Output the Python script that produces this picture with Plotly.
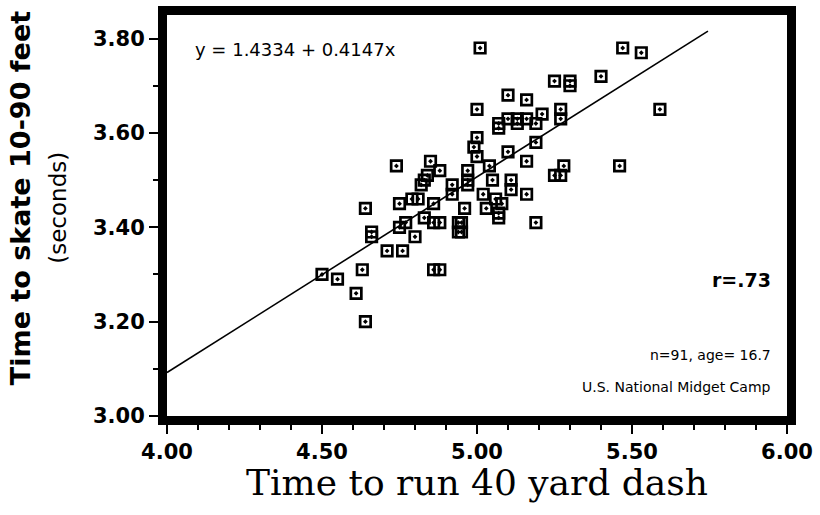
import plotly.graph_objects as go

# Time to run 40 yard dash (s)
dash_times = [
    5.01, 5.47, 5.53, 5.25, 5.30, 5.30, 5.40, 5.10, 5.16, 5.00,
    5.27, 5.27, 5.21, 5.10, 5.13, 5.13, 5.16, 5.07, 5.07, 5.19,
    5.00, 5.19, 4.99, 5.10, 5.00, 5.16, 5.04, 4.97, 5.28, 5.46,
    5.27, 5.25, 5.59, 4.97, 4.97, 5.05, 5.11, 5.11, 5.16, 5.02,
    5.06, 5.08, 5.03, 5.07, 5.07, 4.96, 4.95, 4.95, 5.19, 4.74,
    4.85, 4.88, 4.84, 4.83, 4.82, 4.92, 4.92, 4.75, 4.79, 4.81,
    4.86, 4.64, 4.83, 4.75, 4.77, 4.86, 4.88, 4.94, 4.94, 4.66,
    4.66, 4.80, 4.71, 4.76, 4.63, 4.86, 4.88, 4.50, 4.55, 4.61,
    4.64,
]
# Time to skate 10-90 feet (s)
skate_times = [
    3.78, 3.78, 3.77, 3.71, 3.71, 3.70, 3.72, 3.68, 3.67, 3.65,
    3.65, 3.63, 3.64, 3.63, 3.63, 3.62, 3.63, 3.62, 3.61, 3.62,
    3.59, 3.58, 3.57, 3.56, 3.55, 3.54, 3.53, 3.52, 3.53, 3.53,
    3.51, 3.51, 3.65, 3.50, 3.49, 3.50, 3.50, 3.48, 3.47, 3.47,
    3.46, 3.45, 3.44, 3.43, 3.42, 3.44, 3.41, 3.39, 3.41, 3.53,
    3.54, 3.52, 3.51, 3.50, 3.49, 3.49, 3.47, 3.45, 3.46, 3.46,
    3.45, 3.44, 3.42, 3.40, 3.41, 3.41, 3.41, 3.41, 3.39, 3.39,
    3.38, 3.38, 3.35, 3.35, 3.31, 3.31, 3.31, 3.30, 3.29, 3.26,
    3.20,
]

intercept = 1.4334
slope = 0.4147
line_x = [4.00, 5.745]
line_y = [intercept + slope * v for v in line_x]

fig = go.Figure()
fig.add_trace(go.Scatter(
    x=line_x, y=line_y, mode="lines",
    line=dict(color="black", width=1.6), showlegend=False, hoverinfo="skip",
))
fig.add_trace(go.Scatter(
    x=dash_times, y=skate_times, mode="markers",
    marker=dict(symbol="square-open-dot", size=10.5, color="black",
                line=dict(width=2.7, color="black")),
    showlegend=False,
))

tickfont = dict(family="DejaVu Sans", size=21, color="black", weight="bold")
common = dict(
    ticks="outside", ticklen=9, tickwidth=2, tickcolor="black",
    minor=dict(dtick=0.1, ticks="outside", ticklen=5, tickwidth=1.5, tickcolor="black"),
    showline=True, linewidth=9, linecolor="black", mirror=True,
    showgrid=False, zeroline=False, tickfont=tickfont, automargin=False,
)
fig.update_xaxes(range=[4.0, 6.0], tick0=4.0, dtick=0.5, tickformat=".2f", **common)
fig.update_yaxes(range=[3.0, 3.85], tick0=3.0, dtick=0.2, tickformat=".2f", **common)

ann = []
ann.append(dict(text="<b>Time to skate 10-90 feet</b>", xref="paper", yref="paper",
                x=-0.235, y=0.544, textangle=-90, showarrow=False,
                xanchor="center", yanchor="middle",
                font=dict(family="DejaVu Sans", size=27, color="black")))
ann.append(dict(text="(seconds)", xref="paper", yref="paper",
                x=-0.176, y=0.519, textangle=-90, showarrow=False,
                xanchor="center", yanchor="middle",
                font=dict(family="DejaVu Sans", size=23, color="black")))
ann.append(dict(text="Time to run 40 yard dash", xref="paper", yref="paper",
                x=0.5, y=-0.167, showarrow=False, xanchor="center", yanchor="middle",
                font=dict(family="DejaVu Serif", size=36, color="black")))
ann.append(dict(text="y = 1.4334 + 0.4147x", xref="paper", yref="paper",
                x=0.042, y=0.913, showarrow=False, xanchor="left", yanchor="middle",
                font=dict(family="DejaVu Sans", size=18, color="black")))
ann.append(dict(text="<b>r=.73</b>", xref="paper", yref="paper",
                x=0.978, y=0.339, showarrow=False, xanchor="right", yanchor="middle",
                font=dict(family="DejaVu Sans", size=19, color="black")))
ann.append(dict(text="n=91, age= 16.7", xref="paper", yref="paper",
                x=0.978, y=0.152, showarrow=False, xanchor="right", yanchor="middle",
                font=dict(family="DejaVu Sans", size=14, color="black")))
ann.append(dict(text="U.S. National Midget Camp", xref="paper", yref="paper",
                x=0.978, y=0.072, showarrow=False, xanchor="right", yanchor="middle",
                font=dict(family="DejaVu Sans", size=14, color="black")))

fig.update_layout(
    width=820, height=515,
    margin=dict(l=167, r=33, t=15, b=99),
    paper_bgcolor="white", plot_bgcolor="white",
    annotations=ann,
)

fig.write_html(
    "out.html",
    config={"displayModeBar": False},
    post_script="document.body.style.margin='0';document.body.style.overflow='hidden';",
)
